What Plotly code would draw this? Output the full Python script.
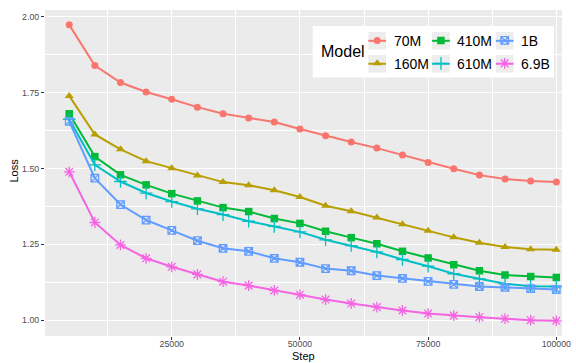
import plotly.graph_objects as go

steps = [5000, 10000, 15000, 20000, 25000, 30000, 35000, 40000, 45000, 50000,
         55000, 60000, 65000, 70000, 75000, 80000, 85000, 90000, 95000, 100000]

loss_70m = [1.973, 1.839, 1.783, 1.752, 1.728, 1.702, 1.680, 1.666, 1.653, 1.630,
            1.608, 1.587, 1.567, 1.544, 1.520, 1.499, 1.478, 1.465, 1.459, 1.455]
loss_160m = [1.739, 1.612, 1.563, 1.524, 1.501, 1.477, 1.455, 1.445, 1.428, 1.406,
             1.377, 1.359, 1.338, 1.316, 1.295, 1.273, 1.255, 1.241, 1.234, 1.232]
loss_410m = [1.680, 1.539, 1.479, 1.446, 1.417, 1.393, 1.371, 1.358, 1.335, 1.319,
             1.293, 1.272, 1.252, 1.227, 1.205, 1.183, 1.163, 1.149, 1.144, 1.141]
loss_610m = [1.662, 1.512, 1.457, 1.419, 1.391, 1.367, 1.348, 1.326, 1.309, 1.291,
             1.265, 1.246, 1.225, 1.200, 1.178, 1.153, 1.136, 1.120, 1.112, 1.111]
loss_1b = [1.655, 1.468, 1.381, 1.330, 1.296, 1.262, 1.237, 1.227, 1.204, 1.191,
           1.170, 1.163, 1.147, 1.138, 1.128, 1.118, 1.111, 1.108, 1.104, 1.101]
loss_6_9b = [1.489, 1.322, 1.248, 1.204, 1.176, 1.151, 1.127, 1.114, 1.098, 1.084,
             1.068, 1.055, 1.043, 1.032, 1.022, 1.015, 1.010, 1.005, 1.000, 0.998]

model_names = ["70M", "160M", "410M", "610M", "1B", "6.9B"]
series = [loss_70m, loss_160m, loss_410m, loss_610m, loss_1b, loss_6_9b]
colors = ["#F8766D", "#B79F00", "#00BA38", "#00BFC4", "#619CFF", "#F564E3"]
symbols = ["circle", "triangle-up", "square", "cross-thin-open", "square-x-open", "asterisk-open"]
sizes = [7, 8, 7.5, 9, 7.5, 9]

x_ticks = [25000, 50000, 75000, 100000]
y_ticks = [1.00, 1.25, 1.50, 1.75, 2.00]

FONT = "Liberation Sans, Arial, sans-serif"

L, R, T, B = 45, 14, 10, 26.5
W, H = 576, 363
pw, ph = W - L - R, H - T - B

def px_x(p):
    return (p - L) / pw

def px_y(p):
    return 1 - (p - T) / ph

# legend layout (pixels): 3 columns x 2 rows, column-major order like ggplot
KEY_CX = 377.2
COL_STEP = 63.75
ROW_Y = [40.85, 63.85]
KEY = 17.7
LEG_LEFT = KEY_CX - 20

fig = go.Figure()
for name, ys, c, s, sz in zip(model_names, series, colors, symbols, sizes):
    open_marker = s.endswith("open")
    mk = dict(symbol=s, size=sz, color=c, line=dict(color=c, width=1.3 if open_marker else 0))
    fig.add_trace(go.Scatter(
        x=steps, y=ys, name=name, mode="lines+markers", showlegend=False,
        line=dict(color=c, width=2), marker=mk,
    ))

shapes = [
    dict(type="rect", xref="paper", yref="paper", layer="above",
         x0=px_x(312.7), x1=px_x(554), y0=px_y(77.7), y1=px_y(26),
         fillcolor="white", line=dict(width=0)),
]
annotations = [
    dict(text="Model", xref="paper", yref="paper",
         x=px_x(319), y=px_y(52), xanchor="left", yanchor="middle",
         showarrow=False, font=dict(family=FONT, size=16, color="black")),
    dict(text="Step", xref="paper", yref="paper",
         x=px_x(303.5), y=px_y(357), xanchor="center", yanchor="middle",
         showarrow=False, font=dict(family=FONT, size=11, color="black")),
    dict(text="Loss", xref="paper", yref="paper", textangle=-90,
         x=px_x(13.8), y=px_y(171), xanchor="center", yanchor="middle",
         showarrow=False, font=dict(family=FONT, size=11, color="black")),
]

for i, (name, c, s, sz) in enumerate(zip(model_names, colors, symbols, sizes)):
    col, row = i // 2, i % 2
    lg = "legend" if row == 0 else "legend2"
    open_marker = s.endswith("open")
    # legend-only entry: carries the key marker; label drawn as annotation text
    fig.add_trace(go.Scatter(
        x=[None], y=[None], name="", mode="markers", legend=lg, legendrank=col,
        hoverinfo="skip",
        marker=dict(symbol=s, size=sz, color=c,
                    line=dict(color=c, width=1.3 if open_marker else 0)),
    ))
    cx = KEY_CX + col * COL_STEP
    cy = ROW_Y[row]
    shapes.append(dict(type="rect", xref="paper", yref="paper", layer="above",
                       x0=px_x(cx - KEY / 2), x1=px_x(cx + KEY / 2),
                       y0=px_y(cy + KEY / 2), y1=px_y(cy - KEY / 2),
                       fillcolor="#EDEDED", line=dict(width=0)))
    shapes.append(dict(type="line", xref="paper", yref="paper", layer="above",
                       x0=px_x(cx - KEY / 2), x1=px_x(cx + KEY / 2),
                       y0=px_y(cy), y1=px_y(cy), line=dict(color=c, width=2)))
    annotations.append(dict(text=name, xref="paper", yref="paper",
                            x=px_x(cx + KEY / 2 + 5.6), y=px_y(cy + 0.5),
                            xanchor="left", yanchor="middle", showarrow=False,
                            font=dict(family=FONT, size=14, color="black")))

leg_common = dict(orientation="h", xanchor="left", yanchor="middle",
                  bgcolor="rgba(0,0,0,0)", borderwidth=0,
                  font=dict(family=FONT, size=14, color="black"),
                  entrywidth=COL_STEP - 45, entrywidthmode="pixels", itemwidth=30,
                  traceorder="normal")

fig.update_layout(
    width=W, height=H,
    margin=dict(l=L, r=R, t=T, b=B, autoexpand=False),
    paper_bgcolor="white", plot_bgcolor="#EBEBEB",
    font=dict(family=FONT, color="black"),
    legend=dict(x=px_x(LEG_LEFT), y=px_y(ROW_Y[0]), **leg_common),
    legend2=dict(x=px_x(LEG_LEFT), y=px_y(ROW_Y[1]), **leg_common),
    shapes=shapes,
    annotations=annotations,
    xaxis=dict(range=[277, 101112], tickvals=x_ticks, tickformat="d",
               ticks="outside", ticklen=3, tickwidth=1, tickcolor="#333333",
               tickfont=dict(family=FONT, size=8.8, color="#4D4D4D"),
               ticklabelstandoff=-4,
               showgrid=True, gridcolor="white", gridwidth=1.1,
               minor=dict(showgrid=True, gridcolor="white", gridwidth=0.5,
                          tickvals=[12500, 37500, 62500, 87500]),
               zeroline=False, showline=False),
    yaxis=dict(range=[0.948, 2.022], tickvals=y_ticks, tickformat=".2f",
               ticks="outside", ticklen=3, tickwidth=1, tickcolor="#333333",
               tickfont=dict(family=FONT, size=8.8, color="#4D4D4D"),
               showgrid=True, gridcolor="white", gridwidth=1.1,
               minor=dict(showgrid=True, gridcolor="white", gridwidth=0.5,
                          tickvals=[1.125, 1.375, 1.625, 1.875]),
               zeroline=False, showline=False),
)

fig.write_html("out.html")
